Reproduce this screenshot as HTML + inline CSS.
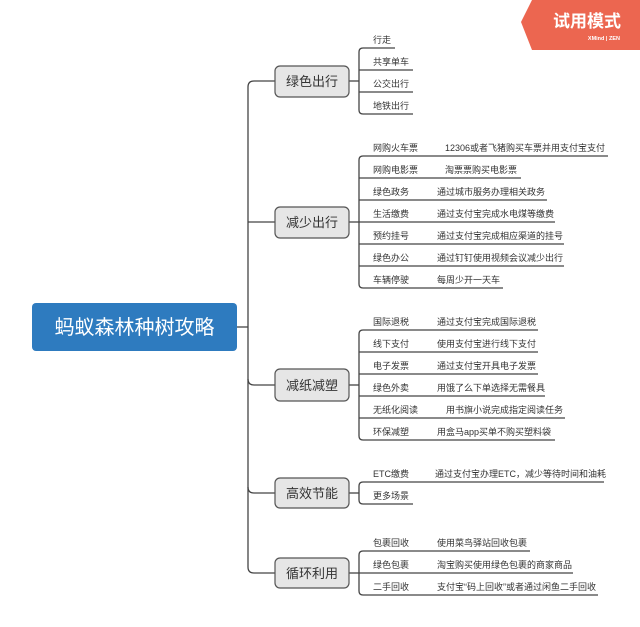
<!DOCTYPE html>
<html><head><meta charset="utf-8"><style>
html,body{margin:0;padding:0;background:#fff;}
svg{display:block;}
text{font-family:"Liberation Sans","Noto Sans CJK SC",sans-serif;}
.l{font-size:9px;fill:#333;}
.b{font-size:13px;fill:#333;}
</style></head><body>
<svg width="640" height="627" viewBox="0 0 640 627" xmlns="http://www.w3.org/2000/svg">
<rect width="640" height="627" fill="#fff"/>
<polygon points="532,0 640,0 640,50 532,50 521,22" fill="#ec6650"/>
<text x="587" y="27" font-size="17" fill="#fff" text-anchor="middle" font-weight="bold">试用模式</text>
<text x="620" y="40" font-size="5.5" fill="#fff" text-anchor="end" font-weight="bold">XMind | ZEN</text>

<g fill="none" stroke="#444" stroke-width="1.3">
<path d="M237,327 H248"/>
<path d="M275,81 H254 Q248,81 248,87 V567 Q248,573 254,573 H275"/>
<path d="M248,222 H275"/>
<path d="M248,379 Q248,385 254,385 H275"/>
<path d="M248,487 Q248,493 254,493 H275"/>
<path d="M349,81 H359"/>
<path d="M395,48 H363 Q359,48 359,52 V110 Q359,114 363,114 H413"/>
<path d="M359,70 H413 M359,92 H413"/>
<path d="M349,222 H359"/>
<path d="M608,156 H363 Q359,156 359,160 V284 Q359,288 363,288 H503"/>
<path d="M359,178 H521 M359,200 H547 M359,222 H555 M359,244 H564 M359,266 H564"/>
<path d="M349,385 H359"/>
<path d="M538,330 H363 Q359,330 359,334 V436 Q359,440 363,440 H555"/>
<path d="M359,352 H538 M359,374 H538 M359,396 H545 M359,418 H565"/>
<path d="M349,493 H359"/>
<path d="M604,482 H363 Q359,482 359,486 V500 Q359,504 363,504 H413"/>
<path d="M349,573 H359"/>
<path d="M530,551 H363 Q359,551 359,555 V591 Q359,595 363,595 H598"/>
<path d="M359,573 H573"/>
</g>

<rect x="32" y="303" width="205" height="48" rx="4" fill="#2e7bbf"/>
<text x="134.5" y="334" font-size="20" fill="#fff" text-anchor="middle">蚂蚁森林种树攻略</text>

<g fill="#e6e6e6" stroke="#555" stroke-width="1.2">
<rect x="275" y="66" width="74" height="31" rx="5"/>
<rect x="275" y="207" width="74" height="31" rx="5"/>
<rect x="275" y="369" width="74" height="32" rx="5"/>
<rect x="275" y="478" width="74" height="30" rx="5"/>
<rect x="275" y="558" width="74" height="30" rx="5"/>
</g>
<g text-anchor="middle">
<text class="b" x="312" y="86">绿色出行</text>
<text class="b" x="312" y="227">减少出行</text>
<text class="b" x="312" y="390">减纸减塑</text>
<text class="b" x="312" y="498">高效节能</text>
<text class="b" x="312" y="578">循环利用</text>
</g>

<g>
<text class="l" x="373" y="43">行走</text>
<text class="l" x="373" y="65">共享单车</text>
<text class="l" x="373" y="87">公交出行</text>
<text class="l" x="373" y="109">地铁出行</text>

<text class="l" x="373" y="151">网购火车票</text><text class="l" x="445" y="151">12306或者飞猪购买车票并用支付宝支付</text>
<text class="l" x="373" y="173">网购电影票</text><text class="l" x="445" y="173">淘票票购买电影票</text>
<text class="l" x="373" y="195">绿色政务</text><text class="l" x="437" y="195">通过城市服务办理相关政务</text>
<text class="l" x="373" y="217">生活缴费</text><text class="l" x="437" y="217">通过支付宝完成水电煤等缴费</text>
<text class="l" x="373" y="239">预约挂号</text><text class="l" x="437" y="239">通过支付宝完成相应渠道的挂号</text>
<text class="l" x="373" y="261">绿色办公</text><text class="l" x="437" y="261">通过钉钉使用视频会议减少出行</text>
<text class="l" x="373" y="283">车辆停驶</text><text class="l" x="437" y="283">每周少开一天车</text>

<text class="l" x="373" y="325">国际退税</text><text class="l" x="437" y="325">通过支付宝完成国际退税</text>
<text class="l" x="373" y="347">线下支付</text><text class="l" x="437" y="347">使用支付宝进行线下支付</text>
<text class="l" x="373" y="369">电子发票</text><text class="l" x="437" y="369">通过支付宝开具电子发票</text>
<text class="l" x="373" y="391">绿色外卖</text><text class="l" x="437" y="391">用饿了么下单选择无需餐具</text>
<text class="l" x="373" y="413">无纸化阅读</text><text class="l" x="446" y="413">用书旗小说完成指定阅读任务</text>
<text class="l" x="373" y="435">环保减塑</text><text class="l" x="437" y="435">用盒马app买单不购买塑料袋</text>

<text class="l" x="373" y="477">ETC缴费</text><text class="l" x="435" y="477">通过支付宝办理ETC，减少等待时间和油耗</text>
<text class="l" x="373" y="499">更多场景</text>

<text class="l" x="373" y="546">包裹回收</text><text class="l" x="437" y="546">使用菜鸟驿站回收包裹</text>
<text class="l" x="373" y="568">绿色包裹</text><text class="l" x="437" y="568">淘宝购买使用绿色包裹的商家商品</text>
<text class="l" x="373" y="590">二手回收</text><text class="l" x="437" y="590">支付宝“码上回收”或者通过闲鱼二手回收</text>
</g>
</svg>
</body></html>
